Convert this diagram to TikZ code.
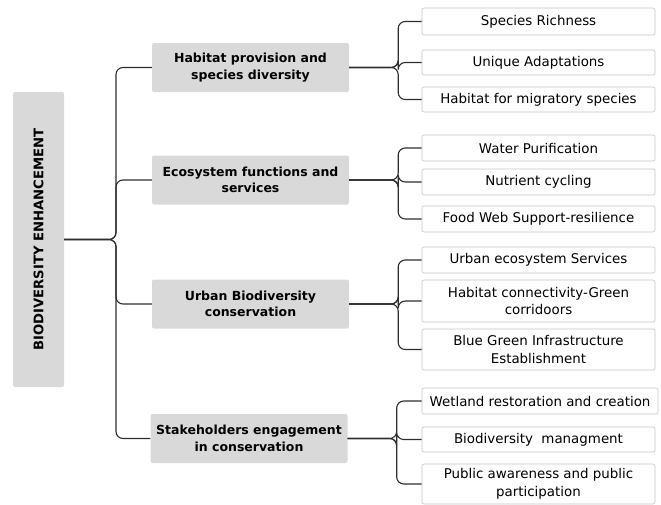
\documentclass[tikz,border=0pt]{standalone}
\usepackage{fontspec}
\setmainfont{DejaVu Sans}
\usepackage{tikz}
\definecolor{boxgray}{HTML}{D9D9D9}
\definecolor{edgegray}{HTML}{C4C4C4}
\definecolor{linkgray}{HTML}{2E2E2E}

\begin{document}
\begin{tikzpicture}[x=1pt,y=-1pt,
  rootbox/.style={fill=boxgray,rounded corners=2pt,rotate=90,minimum width=295pt,minimum height=51pt,inner sep=0pt,font=\bfseries\fontsize{13.2}{14}\selectfont},
  topic/.style={fill=boxgray,rounded corners=2pt,minimum width=197pt,minimum height=49pt,inner sep=0pt,align=center,font=\bfseries\fontsize{12.5}{16.5}\selectfont},
  leaf/.style={draw=edgegray,line width=0.6pt,fill=white,rounded corners=2pt,minimum width=233pt,inner sep=0pt,align=center,font=\fontsize{13.4}{17.5}\selectfont},
  link/.style={draw=linkgray,line width=1.1pt,rounded corners=7pt}]
 \useasboundingbox (0,0) rectangle (661,504);
 \draw (38.5,239.5) node[rootbox] (root) {BIODIVERSITY ENHANCEMENT};

 \draw (250.5,67.5) node[topic] (hab) {Habitat provision and\\species diversity};
 \draw (250.5,180) node[topic] (eco) {Ecosystem functions and\\services};
 \draw (250.5,304) node[topic] (urb) {Urban Biodiversity\\conservation};
 \draw (249,438.5) node[topic] (sta) {Stakeholders engagement\\in conservation};

 \draw (538.5,21.5) node[leaf,minimum height=27pt] (rich) {Species Richness};
 \draw (538.5,62.5) node[leaf,minimum height=25pt] (adapt) {Unique Adaptations};
 \draw (538.5,99.5) node[leaf,minimum height=25pt] (migr) {Habitat for migratory species};
 \draw (538.5,148) node[leaf,minimum height=26pt] (water) {Water Purification};
 \draw (538.5,182) node[leaf,minimum height=26pt] (nutr) {Nutrient cycling};
 \draw (538.5,219) node[leaf,minimum height=26pt] (food) {Food Web Support-resilience};
 \draw (538.5,260) node[leaf,minimum height=26pt] (ecoserv) {Urban ecosystem Services};
 \draw (538.5,301) node[leaf,minimum height=42pt] (conn) {Habitat connectivity-Green\\corridoors};
 \draw (538.5,349.5) node[leaf,minimum height=41pt] (bgi) {Blue Green Infrastructure\\Establishment};
 \draw (540,401) node[leaf,minimum height=26pt,minimum width=236pt] (wet) {Wetland restoration and creation};
 \draw (538.5,439.5) node[leaf,minimum height=25pt] (manag) {Biodiversity\ \ managment};
 \draw (538.5,484) node[leaf,minimum height=40pt] (aware) {Public awareness and public\\participation};

 % trunk from the root
 \coordinate (trunk) at (116,239.5);
 \foreach \t in {hab,eco,urb,sta}
   \draw[link] (root.south) -- (trunk) |- (\t.west);

 % branches to the leaves
 \foreach \t/\a/\b/\c in {hab/rich/adapt/migr,eco/water/nutr/food,urb/ecoserv/conn/bgi,sta/wet/manag/aware}
   \foreach \l in {\a,\b,\c}
     \draw[link] (\t.east) -- ++(49,0) |- (\l.west);
\end{tikzpicture}
\end{document}
